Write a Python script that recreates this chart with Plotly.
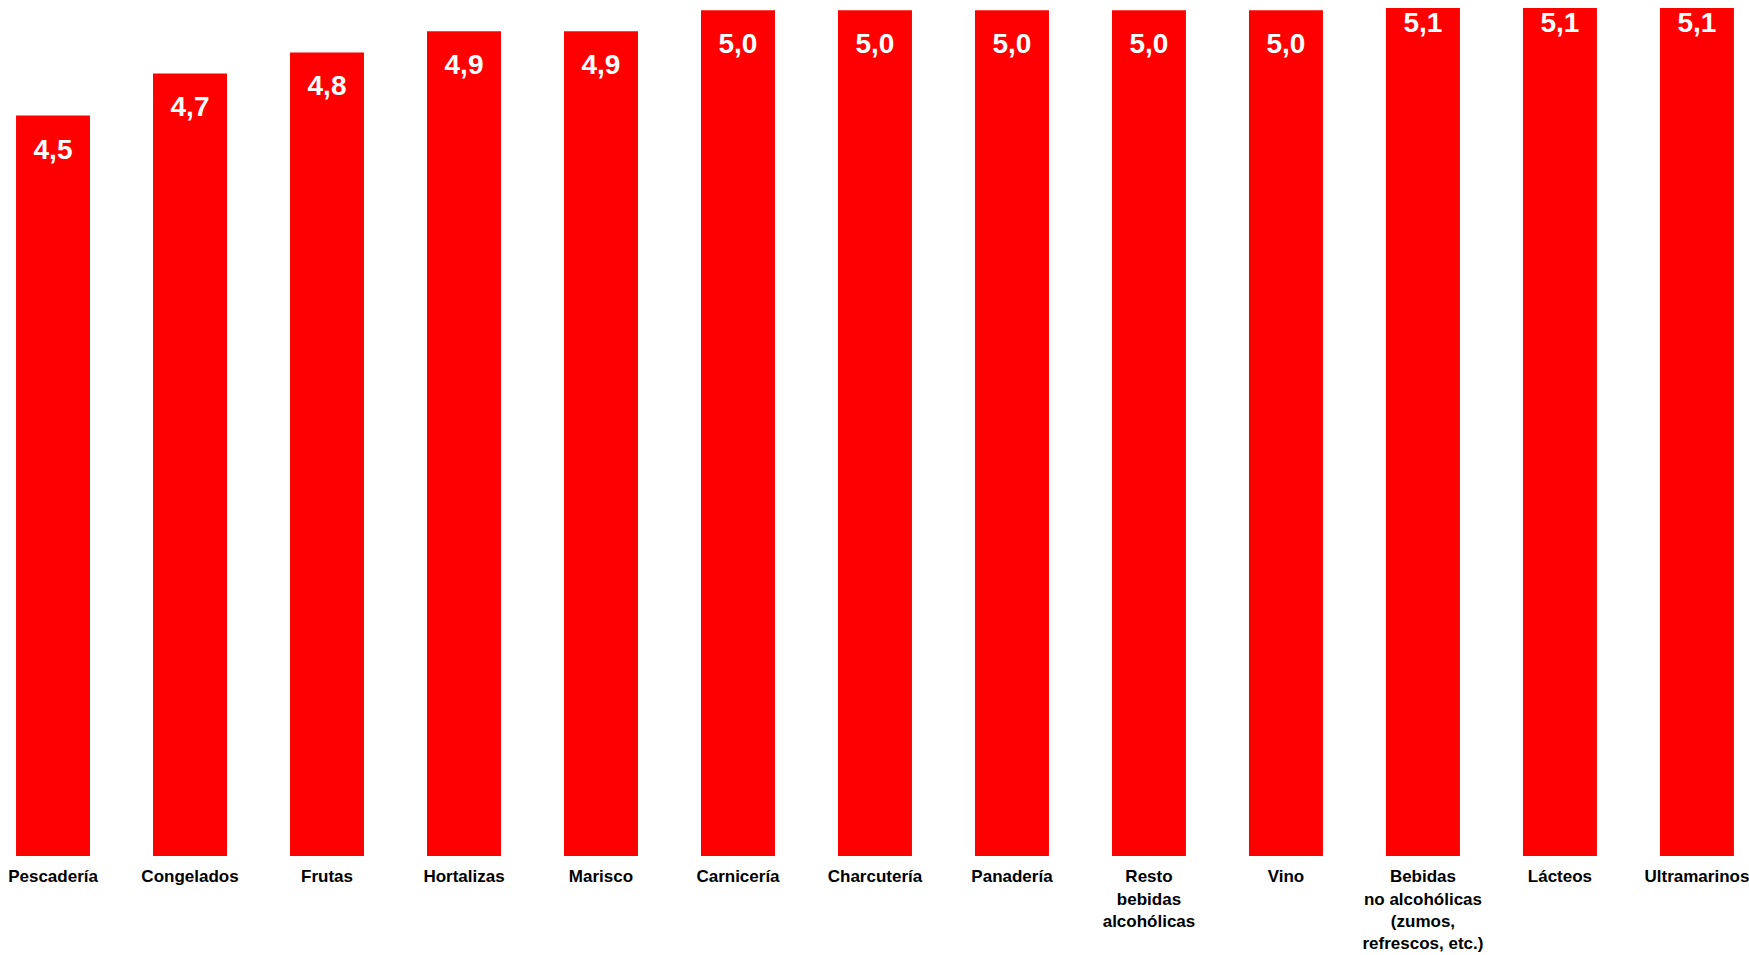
import plotly.graph_objects as go

# Categorías y valoraciones medias
categorias = [
    "Pescadería", "Congelados", "Frutas", "Hortalizas", "Marisco",
    "Carnicería", "Charcutería", "Panadería", "Resto<br>bebidas<br>alcohólicas",
    "Vino", "Bebidas<br>no alcohólicas<br>(zumos,<br>refrescos, etc.)",
    "Lácteos", "Ultramarinos",
]
valores = [4.5, 4.7, 4.8, 4.9, 4.9, 5.0, 5.0, 5.0, 5.0, 5.0, 5.1, 5.1, 5.1]
etiquetas = [f"{v:.1f}".replace(".", ",") for v in valores]

RANGO_Y = [0.982, 5.011]
DESPLAZ_ETIQ = 0.171  # distancia de la etiqueta bajo el extremo de la barra

fig = go.Figure()
fig.add_trace(go.Bar(
    x=list(range(len(categorias))),
    y=valores,
    width=0.54,
    marker=dict(color="#FF0000", line=dict(width=0)),
    hoverinfo="skip",
))

# Etiquetas de valor dentro de cada barra
fig.add_trace(go.Scatter(
    x=list(range(len(categorias))),
    y=[v - DESPLAZ_ETIQ for v in valores],
    mode="text",
    text=etiquetas,
    textposition="middle center",
    textfont=dict(family="Liberation Sans, Arial, sans-serif", size=28,
                  color="white", weight="bold"),
    cliponaxis=False,
    hoverinfo="skip",
))

fig.update_layout(
    width=1749, height=955,
    margin=dict(l=0, r=0, t=8, b=99),
    plot_bgcolor="white", paper_bgcolor="white",
    showlegend=False,
    xaxis=dict(
        range=[-0.387, 12.38],
        tickmode="array",
        tickvals=list(range(len(categorias))),
        ticktext=[f"<b>{c}</b>" for c in categorias],
        tickfont=dict(family="Liberation Sans, Arial, sans-serif", size=17, color="black"),
        ticks="outside", ticklen=5, tickcolor="rgba(0,0,0,0)",
        ticklabeloverflow="allow",
        showgrid=False, zeroline=False, showline=False,
    ),
    yaxis=dict(
        range=RANGO_Y, visible=False, showgrid=False, zeroline=False,
    ),
)

fig.write_html("out.html")
